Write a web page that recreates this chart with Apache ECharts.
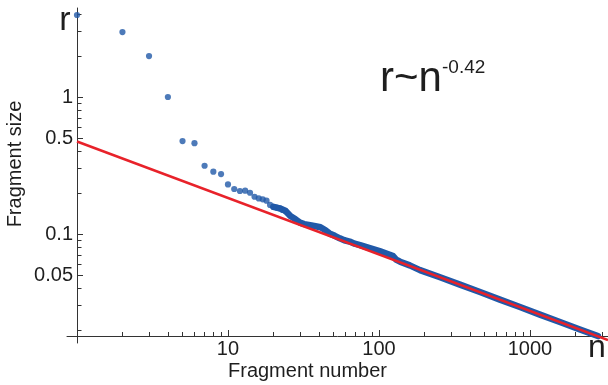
<!DOCTYPE html>
<html><head><meta charset="utf-8">
<script src="https://cdn.jsdelivr.net/npm/echarts@6/dist/echarts.min.js"></script>
<style>html,body{margin:0;padding:0;background:#fff}#c{width:608px;height:385px}</style>
</head><body><div id="c"></div>
<script>
// ---- data ----
const scatterN = [1,2,3,4,5,6,7,8,9,10,11,12,13,14,15,16,17,18,19,20,21,22,23,24];
const scatterR = [3.97,2.98,1.99,1.0,0.477,0.46,0.315,0.285,0.274,0.23,0.213,0.206,0.207,0.2,0.187,0.182,0.179,0.175,0.163,0.158,0.156,0.154,0.15,0.147];
const bandN = [20,22,24,26,28,30,32,35,38,41,44,47,51,55,59,64,69,75,87,101,118,124,130,138,160,187,254,344,467,633,859,1165,1580,2144,2820];
const bandR = [0.158,0.154,0.148,0.135,0.128,0.121,0.118,0.116,0.114,0.112,0.107,0.101,0.097,0.093,0.090,0.088,0.085,0.083,0.079,0.075,0.0705,0.069,0.065,0.0628,0.059,0.0545,0.0483,0.0427,0.0377,0.0332,0.0293,0.0258,0.0228,0.0201,0.0180];
const fitN = [1, 3290];
const fitR = [0.4734, 0.01684];
const xMinorTicks = [2,3,4,5,6,7,8,9,20,30,40,50,60,70,80,90,200,300,400,500,600,700,800,900,2000,3000];
const xMajorTicks = [10,100,1000];
const xTickLabels = ['10','100','1000'];
const yMinorTicks = [0.02,0.03,0.04,0.06,0.07,0.08,0.09,0.2,0.3,0.4,0.6,0.7,0.8,0.9,2,3,4];
const yMajorTicks = [0.05,0.1,0.5,1];
const yTickLabels = ['0.05','0.1','0.5','1'];

const FONT = '"Liberation Sans", Arial, sans-serif';
const AX = '#333';
const TXT = '#1e1e1e';
const BLUE = '#2159a8';
const RED = '#e8222a';

function pickLabel(v, ticks, labels){
  let best = 0, bd = Infinity;
  for (let i = 0; i < ticks.length; i++) {
    const d = Math.abs(Math.log10(v) - Math.log10(ticks[i]));
    if (d < bd) { bd = d; best = i; }
  }
  return bd < 0.01 ? labels[best] : '';
}
const zip = (a, b) => a.map((v, i) => [v, b[i]]);

const X_MIN = 0.8586, X_MAX = 3290, Y_MIN = 0.01601, Y_MAX = 4.464;
const xCommon = {type:'log', logBase:10, min:X_MIN, max:X_MAX, gridIndex:0, position:'bottom', offset:-7,
  splitLine:{show:false}, minorTick:{show:false}, minorSplitLine:{show:false}};
const yCommon = {type:'log', logBase:10, min:Y_MIN, max:Y_MAX, gridIndex:0, position:'left', offset:-10,
  splitLine:{show:false}, minorTick:{show:false}, minorSplitLine:{show:false}};

const chart = echarts.init(document.getElementById('c'), null, {renderer:'canvas'});
chart.setOption({
  animation:false,
  backgroundColor:'#fff',
  grid:{left:67, right:0, top:8, bottom:42, containLabel:false, outerBoundsMode:'none'},
  xAxis:[
    Object.assign({}, xCommon, {
      axisLine:{show:true, lineStyle:{color:AX, width:1}},
      axisTick:{show:true, inside:true, length:4, customValues:xMinorTicks, lineStyle:{color:AX, width:1}},
      axisLabel:{show:true, customValues:xMajorTicks, margin:3, fontSize:20, fontFamily:FONT, color:TXT,
        formatter:v => pickLabel(v, xMajorTicks, xTickLabels)}
    }),
    Object.assign({}, xCommon, {
      axisLine:{show:false},
      axisTick:{show:true, inside:true, length:6, customValues:xMajorTicks, lineStyle:{color:AX, width:1}},
      axisLabel:{show:false}
    })
  ],
  yAxis:[
    Object.assign({}, yCommon, {
      axisLine:{show:true, lineStyle:{color:AX, width:1}},
      axisTick:{show:true, inside:true, length:4.5, customValues:yMinorTicks, lineStyle:{color:AX, width:1}},
      axisLabel:{show:true, customValues:yMajorTicks, margin:4, fontSize:20, fontFamily:FONT, color:TXT,
        formatter:v => pickLabel(v, yMajorTicks, yTickLabels)}
    }),
    Object.assign({}, yCommon, {
      axisLine:{show:false},
      axisTick:{show:true, inside:true, length:6, customValues:yMajorTicks, lineStyle:{color:AX, width:1}},
      axisLabel:{show:false}
    })
  ],
  series:[
    {type:'line', xAxisIndex:0, yAxisIndex:0, data:zip(bandN, bandR), symbol:'none', smooth:false,
      lineStyle:{color:BLUE, width:6.5, cap:'round', join:'round'}, z:2, silent:true},
    {type:'scatter', xAxisIndex:0, yAxisIndex:0, data:zip(scatterN, scatterR), symbol:'circle', symbolSize:6.2,
      itemStyle:{color:BLUE}, z:3, silent:true},
    {type:'line', xAxisIndex:0, yAxisIndex:0, data:zip(fitN, fitR), symbol:'none',
      lineStyle:{color:RED, width:2.5}, z:4, silent:true}
  ],
  graphic:[
    {type:'text', x:15, y:164, rotation:Math.PI/2, style:{text:'Fragment size', font:'20px '+FONT, fill:TXT, textAlign:'center', textVerticalAlign:'middle'}},
    {type:'text', x:228, y:371, style:{text:'Fragment number', font:'20px '+FONT, fill:TXT, textAlign:'left', textVerticalAlign:'middle'}},
    {type:'text', x:65, y:21, style:{text:'r', font:'34px '+FONT, fill:TXT, textAlign:'center', textVerticalAlign:'middle'}},
    {type:'text', x:597, y:348.5, style:{text:'n', font:'32px '+FONT, fill:TXT, textAlign:'center', textVerticalAlign:'middle'}},
    {type:'text', x:380, y:79.5, style:{text:'r~n', font:'42px '+FONT, fill:TXT, textAlign:'left', textVerticalAlign:'middle'}},
    {type:'text', x:442, y:67.5, style:{text:'-0.42', font:'19px '+FONT, fill:TXT, textAlign:'left', textVerticalAlign:'middle'}}
  ]
});
</script></body></html>
